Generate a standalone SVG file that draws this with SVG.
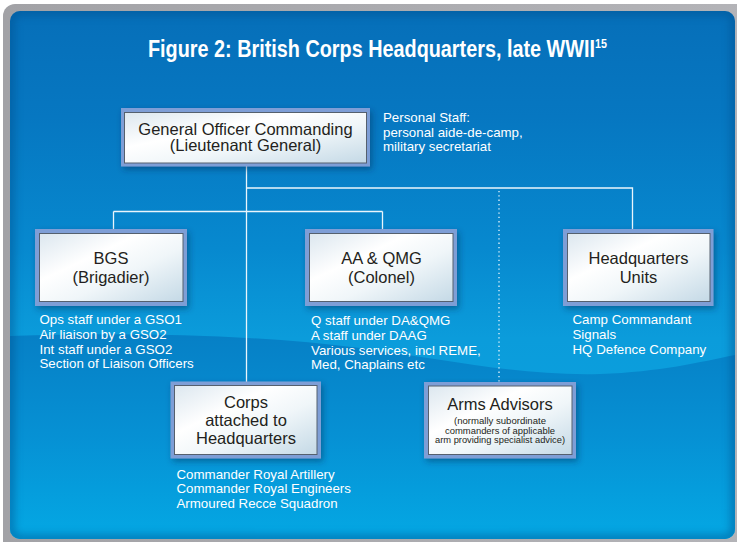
<svg xmlns="http://www.w3.org/2000/svg" width="737" height="542" viewBox="0 0 737 542">
  <defs>
    <linearGradient id="panelTop" x1="0" y1="0" x2="0" y2="1" gradientUnits="objectBoundingBox">
      <stop offset="0" stop-color="#066fb9"/>
      <stop offset="0.2" stop-color="#0677c1"/>
      <stop offset="0.45" stop-color="#0789cf"/>
      <stop offset="0.62" stop-color="#0b9cdb"/>
      <stop offset="1" stop-color="#0ba6e2"/>
    </linearGradient>
    <linearGradient id="panelWave" x1="0" y1="336" x2="0" y2="539" gradientUnits="userSpaceOnUse">
      <stop offset="0" stop-color="#0680c6"/>
      <stop offset="0.5" stop-color="#0691d4"/>
      <stop offset="1" stop-color="#04a8e4"/>
    </linearGradient>
    <linearGradient id="frameGrad" x1="0" y1="0" x2="1" y2="0">
      <stop offset="0" stop-color="#a2a2a6"/>
      <stop offset="1" stop-color="#b4b4b8"/>
    </linearGradient>
    <linearGradient id="boxFill" x1="0" y1="0" x2="1" y2="1">
      <stop offset="0" stop-color="#dce7ef"/>
      <stop offset="0.35" stop-color="#ffffff"/>
      <stop offset="0.6" stop-color="#f0f6f9"/>
      <stop offset="1" stop-color="#c4d9e6"/>
    </linearGradient>
    <clipPath id="panelClip">
      <rect x="10" y="11" width="725" height="528" rx="10"/>
    </clipPath>
    <filter id="edgeBlur" x="-5%" y="-5%" width="110%" height="110%">
      <feGaussianBlur stdDeviation="4"/>
    </filter>
    <filter id="boxShadow" x="-20%" y="-20%" width="140%" height="150%">
      <feDropShadow dx="2" dy="3" stdDeviation="3" flood-color="#002a55" flood-opacity="0.45"/>
    </filter>
    <style>
      .frame { fill: #7e9ed6; }
      .inner { fill: url(#boxFill); stroke: #55606e; stroke-width: 1; }
      .btxt { font-family: "Liberation Sans", Arial, sans-serif; font-size: 16.5px; fill: #231f20; text-anchor: middle; }
      .small { font-family: "Liberation Sans", Arial, sans-serif; font-size: 9px; fill: #231f20; text-anchor: middle; }
      .list { font-family: "Liberation Sans", Arial, sans-serif; font-size: 13.3px; fill: #ffffff; }
      .link { fill: none; stroke: #eaf5fc; stroke-width: 1.3; }
      .dotted { fill: none; stroke: #eaf5fc; stroke-width: 1.3; stroke-dasharray: 1.3 3; }
      .title { font-family: "Liberation Sans", Arial, sans-serif; font-weight: bold; fill: #ffffff; }
    </style>
  </defs>

  <!-- page and grey frame -->
  <rect width="737" height="542" fill="#ffffff"/>
  <rect x="3" y="4" width="760" height="560" rx="12" fill="url(#frameGrad)"/>

  <!-- blue panel with wave -->
  <g clip-path="url(#panelClip)">
    <rect x="10" y="11" width="725" height="528" fill="url(#panelTop)"/>
    <path d="M10,336 C120,332 250,334 360,348 C450,360 520,376 600,374 C660,372 700,362 735,355 L735,539 L10,539 Z" fill="url(#panelWave)"/>
    <rect x="10" y="11" width="725" height="528" rx="10" fill="none" stroke="#03508c" stroke-width="8" opacity="0.55" filter="url(#edgeBlur)"/>
  </g>

  <!-- title (condensed by horizontal scaling), footnote number as superscript -->
  <text class="title" font-size="24" transform="translate(148 57) scale(0.826 1)">Figure 2: British Corps Headquarters, late WWII<tspan font-size="13" dy="-9">15</tspan></text>

  <!-- connectors -->
  <g id="connectors">
    <path class="link" d="M246.5,166 V383"/>
    <path class="link" d="M246.5,188 H632.5 V230"/>
    <path class="link" d="M113.5,211.5 H382.5"/>
    <path class="link" d="M113.5,211.5 V230"/>
    <path class="link" d="M382.5,211.5 V230"/>
    <path class="dotted" d="M499,191 V382"/>
  </g>

  <!-- nodes -->
  <g id="goc">
    <rect class="frame" x="121" y="108" width="249" height="58.5" filter="url(#boxShadow)"/>
    <rect class="inner" x="124.5" y="112.5" width="242" height="50.5"/>
    <text class="btxt" x="245.5" y="134.5" font-size="16.8">General Officer Commanding</text>
    <text class="btxt" x="245.5" y="151" font-size="16.8">(Lieutenant General)</text>
  </g>

  <g id="personal-staff">
    <text class="list" x="383" y="121.5">Personal Staff:</text>
    <text class="list" x="383" y="136.5">personal aide-de-camp,</text>
    <text class="list" x="383" y="151">military secretariat</text>
  </g>

  <g id="bgs">
    <rect class="frame" x="35" y="229" width="152" height="77" filter="url(#boxShadow)"/>
    <rect class="inner" x="39.5" y="233.5" width="143.5" height="68"/>
    <text class="btxt" x="111" y="263.5">BGS</text>
    <text class="btxt" x="111" y="283">(Brigadier)</text>
    <text class="list" x="39.5" y="324">Ops staff under a GSO1</text>
    <text class="list" x="39.5" y="339">Air liaison by a GSO2</text>
    <text class="list" x="39.5" y="353.5">Int staff under a GSO2</text>
    <text class="list" x="39.5" y="368">Section of Liaison Officers</text>
  </g>

  <g id="aa-qmg">
    <rect class="frame" x="305" y="229" width="152" height="77" filter="url(#boxShadow)"/>
    <rect class="inner" x="309.5" y="233.5" width="143.5" height="68"/>
    <text class="btxt" x="381.5" y="263.5">AA &amp; QMG</text>
    <text class="btxt" x="381.5" y="282.5">(Colonel)</text>
    <text class="list" x="311" y="325">Q staff under DA&amp;QMG</text>
    <text class="list" x="311" y="340">A staff under DAAG</text>
    <text class="list" x="311" y="354.5">Various services, incl REME,</text>
    <text class="list" x="311" y="368.5">Med, Chaplains etc</text>
  </g>

  <g id="hq-units">
    <rect class="frame" x="563" y="229" width="150.5" height="77" filter="url(#boxShadow)"/>
    <rect class="inner" x="567.5" y="233.5" width="142.5" height="68"/>
    <text class="btxt" x="638.5" y="263.5">Headquarters</text>
    <text class="btxt" x="638.5" y="282.5">Units</text>
    <text class="list" x="572.5" y="324">Camp Commandant</text>
    <text class="list" x="572.5" y="339">Signals</text>
    <text class="list" x="572.5" y="353.5">HQ Defence Company</text>
  </g>

  <g id="corps-attached">
    <rect class="frame" x="170.5" y="381.5" width="150.5" height="77" filter="url(#boxShadow)"/>
    <rect class="inner" x="174.5" y="385.5" width="142.5" height="69"/>
    <text class="btxt" x="246" y="407.5">Corps</text>
    <text class="btxt" x="246" y="425.5">attached to</text>
    <text class="btxt" x="246" y="443.5">Headquarters</text>
    <text class="list" x="176.5" y="478.5">Commander Royal Artillery</text>
    <text class="list" x="176.5" y="493">Commander Royal Engineers</text>
    <text class="list" x="176.5" y="507.5">Armoured Recce Squadron</text>
  </g>

  <g id="arms-advisors">
    <rect class="frame" x="424" y="382" width="152" height="76.5" filter="url(#boxShadow)"/>
    <rect class="inner" x="428.5" y="386" width="143.5" height="68.5"/>
    <text class="btxt" x="500" y="410" font-size="17">Arms Advisors</text>
    <text class="small" x="500" y="424" textLength="92" lengthAdjust="spacingAndGlyphs">(normally subordinate</text>
    <text class="small" x="500" y="433.5" textLength="110" lengthAdjust="spacingAndGlyphs">commanders of applicable</text>
    <text class="small" x="500" y="443" textLength="130" lengthAdjust="spacingAndGlyphs">arm providing specialist advice)</text>
  </g>
</svg>
